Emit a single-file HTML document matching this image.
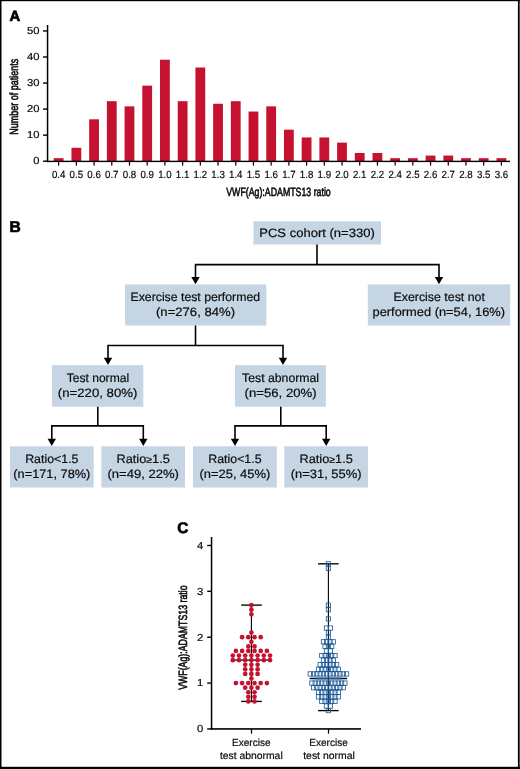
<!DOCTYPE html>
<html><head><meta charset="utf-8"><title>Figure</title>
<style>html,body{margin:0;padding:0;background:#fff}svg{display:block;will-change:transform}text{white-space:pre;text-rendering:geometricPrecision;stroke:#0c0c0c;stroke-width:0.2px}</style></head>
<body>
<svg width="520" height="769" viewBox="0 0 520 769" font-family="'Liberation Sans', sans-serif" fill="#0c0c0c">
<rect x="0" y="0" width="520" height="769" fill="#fff"/>
<rect x="0" y="0" width="520" height="1.2" fill="#000"/>
<rect x="0" y="0" width="1.5" height="769" fill="#000"/>
<rect x="517.9" y="0" width="1.8" height="769" fill="#000"/>
<rect x="0" y="766.8" width="520" height="2.2" fill="#000"/>
<text x="9.6" y="20.6" font-size="14.8" text-anchor="start" font-weight="bold" fill="#000" style="stroke:#000;stroke-width:0.7px">A</text>
<rect x="53.75" y="158.16" width="9.8" height="2.99" fill="#c41230"/>
<rect x="71.46" y="147.80" width="9.8" height="13.35" fill="#c41230"/>
<rect x="89.17" y="119.31" width="9.8" height="41.84" fill="#c41230"/>
<rect x="106.88" y="101.18" width="9.8" height="59.97" fill="#c41230"/>
<rect x="124.59" y="106.36" width="9.8" height="54.79" fill="#c41230"/>
<rect x="142.30" y="85.64" width="9.8" height="75.51" fill="#c41230"/>
<rect x="160.01" y="59.74" width="9.8" height="101.41" fill="#c41230"/>
<rect x="177.72" y="101.18" width="9.8" height="59.97" fill="#c41230"/>
<rect x="195.43" y="67.51" width="9.8" height="93.64" fill="#c41230"/>
<rect x="213.14" y="103.77" width="9.8" height="57.38" fill="#c41230"/>
<rect x="230.85" y="101.18" width="9.8" height="59.97" fill="#c41230"/>
<rect x="248.56" y="111.54" width="9.8" height="49.61" fill="#c41230"/>
<rect x="266.27" y="106.36" width="9.8" height="54.79" fill="#c41230"/>
<rect x="283.98" y="129.67" width="9.8" height="31.48" fill="#c41230"/>
<rect x="301.69" y="137.44" width="9.8" height="23.71" fill="#c41230"/>
<rect x="319.40" y="137.44" width="9.8" height="23.71" fill="#c41230"/>
<rect x="337.11" y="142.62" width="9.8" height="18.53" fill="#c41230"/>
<rect x="354.82" y="152.98" width="9.8" height="8.17" fill="#c41230"/>
<rect x="372.53" y="152.98" width="9.8" height="8.17" fill="#c41230"/>
<rect x="390.24" y="158.16" width="9.8" height="2.99" fill="#c41230"/>
<rect x="407.95" y="158.16" width="9.8" height="2.99" fill="#c41230"/>
<rect x="425.66" y="155.57" width="9.8" height="5.58" fill="#c41230"/>
<rect x="443.37" y="155.57" width="9.8" height="5.58" fill="#c41230"/>
<rect x="461.08" y="158.16" width="9.8" height="2.99" fill="#c41230"/>
<rect x="478.79" y="158.16" width="9.8" height="2.99" fill="#c41230"/>
<rect x="496.50" y="158.16" width="9.8" height="2.99" fill="#c41230"/>
<rect x="46.8" y="25" width="1.5" height="137.10" fill="#000"/>
<rect x="46.8" y="160.7" width="463.20" height="1.4" fill="#000"/>
<rect x="43" y="160.50" width="4" height="1.4" fill="#000"/>
<text x="39.5" y="164.2" font-size="10.2" text-anchor="end" font-weight="normal" textLength="6.2" lengthAdjust="spacingAndGlyphs">0</text>
<rect x="43" y="134.45" width="4" height="1.4" fill="#000"/>
<text x="39.5" y="138.14999999999998" font-size="10.2" text-anchor="end" font-weight="normal" textLength="12.5" lengthAdjust="spacingAndGlyphs">10</text>
<rect x="43" y="108.40" width="4" height="1.4" fill="#000"/>
<text x="39.5" y="112.1" font-size="10.2" text-anchor="end" font-weight="normal" textLength="12.5" lengthAdjust="spacingAndGlyphs">20</text>
<rect x="43" y="82.35" width="4" height="1.4" fill="#000"/>
<text x="39.5" y="86.04999999999998" font-size="10.2" text-anchor="end" font-weight="normal" textLength="12.5" lengthAdjust="spacingAndGlyphs">30</text>
<rect x="43" y="56.30" width="4" height="1.4" fill="#000"/>
<text x="39.5" y="59.999999999999986" font-size="10.2" text-anchor="end" font-weight="normal" textLength="12.5" lengthAdjust="spacingAndGlyphs">40</text>
<rect x="43" y="30.25" width="4" height="1.4" fill="#000"/>
<text x="39.5" y="33.94999999999999" font-size="10.2" text-anchor="end" font-weight="normal" textLength="12.5" lengthAdjust="spacingAndGlyphs">50</text>
<rect x="58.05" y="161" width="1.2" height="4.6" fill="#000"/>
<text x="58.65" y="178.1" font-size="10.4" text-anchor="middle" font-weight="normal" textLength="13.5" lengthAdjust="spacingAndGlyphs">0.4</text>
<rect x="75.76" y="161" width="1.2" height="4.6" fill="#000"/>
<text x="76.36" y="178.1" font-size="10.4" text-anchor="middle" font-weight="normal" textLength="13.5" lengthAdjust="spacingAndGlyphs">0.5</text>
<rect x="93.47" y="161" width="1.2" height="4.6" fill="#000"/>
<text x="94.07" y="178.1" font-size="10.4" text-anchor="middle" font-weight="normal" textLength="13.5" lengthAdjust="spacingAndGlyphs">0.6</text>
<rect x="111.18" y="161" width="1.2" height="4.6" fill="#000"/>
<text x="111.78" y="178.1" font-size="10.4" text-anchor="middle" font-weight="normal" textLength="13.5" lengthAdjust="spacingAndGlyphs">0.7</text>
<rect x="128.89" y="161" width="1.2" height="4.6" fill="#000"/>
<text x="129.49" y="178.1" font-size="10.4" text-anchor="middle" font-weight="normal" textLength="13.5" lengthAdjust="spacingAndGlyphs">0.8</text>
<rect x="146.60" y="161" width="1.2" height="4.6" fill="#000"/>
<text x="147.20" y="178.1" font-size="10.4" text-anchor="middle" font-weight="normal" textLength="13.5" lengthAdjust="spacingAndGlyphs">0.9</text>
<rect x="164.31" y="161" width="1.2" height="4.6" fill="#000"/>
<text x="164.91" y="178.1" font-size="10.4" text-anchor="middle" font-weight="normal" textLength="13.5" lengthAdjust="spacingAndGlyphs">1.0</text>
<rect x="182.02" y="161" width="1.2" height="4.6" fill="#000"/>
<text x="182.62" y="178.1" font-size="10.4" text-anchor="middle" font-weight="normal" textLength="13.5" lengthAdjust="spacingAndGlyphs">1.1</text>
<rect x="199.73" y="161" width="1.2" height="4.6" fill="#000"/>
<text x="200.33" y="178.1" font-size="10.4" text-anchor="middle" font-weight="normal" textLength="13.5" lengthAdjust="spacingAndGlyphs">1.2</text>
<rect x="217.44" y="161" width="1.2" height="4.6" fill="#000"/>
<text x="218.04" y="178.1" font-size="10.4" text-anchor="middle" font-weight="normal" textLength="13.5" lengthAdjust="spacingAndGlyphs">1.3</text>
<rect x="235.15" y="161" width="1.2" height="4.6" fill="#000"/>
<text x="235.75" y="178.1" font-size="10.4" text-anchor="middle" font-weight="normal" textLength="13.5" lengthAdjust="spacingAndGlyphs">1.4</text>
<rect x="252.86" y="161" width="1.2" height="4.6" fill="#000"/>
<text x="253.46" y="178.1" font-size="10.4" text-anchor="middle" font-weight="normal" textLength="13.5" lengthAdjust="spacingAndGlyphs">1.5</text>
<rect x="270.57" y="161" width="1.2" height="4.6" fill="#000"/>
<text x="271.17" y="178.1" font-size="10.4" text-anchor="middle" font-weight="normal" textLength="13.5" lengthAdjust="spacingAndGlyphs">1.6</text>
<rect x="288.28" y="161" width="1.2" height="4.6" fill="#000"/>
<text x="288.88" y="178.1" font-size="10.4" text-anchor="middle" font-weight="normal" textLength="13.5" lengthAdjust="spacingAndGlyphs">1.7</text>
<rect x="305.99" y="161" width="1.2" height="4.6" fill="#000"/>
<text x="306.59" y="178.1" font-size="10.4" text-anchor="middle" font-weight="normal" textLength="13.5" lengthAdjust="spacingAndGlyphs">1.8</text>
<rect x="323.70" y="161" width="1.2" height="4.6" fill="#000"/>
<text x="324.30" y="178.1" font-size="10.4" text-anchor="middle" font-weight="normal" textLength="13.5" lengthAdjust="spacingAndGlyphs">1.9</text>
<rect x="341.41" y="161" width="1.2" height="4.6" fill="#000"/>
<text x="342.01" y="178.1" font-size="10.4" text-anchor="middle" font-weight="normal" textLength="13.5" lengthAdjust="spacingAndGlyphs">2.0</text>
<rect x="359.12" y="161" width="1.2" height="4.6" fill="#000"/>
<text x="359.72" y="178.1" font-size="10.4" text-anchor="middle" font-weight="normal" textLength="13.5" lengthAdjust="spacingAndGlyphs">2.1</text>
<rect x="376.83" y="161" width="1.2" height="4.6" fill="#000"/>
<text x="377.43" y="178.1" font-size="10.4" text-anchor="middle" font-weight="normal" textLength="13.5" lengthAdjust="spacingAndGlyphs">2.2</text>
<rect x="394.54" y="161" width="1.2" height="4.6" fill="#000"/>
<text x="395.14" y="178.1" font-size="10.4" text-anchor="middle" font-weight="normal" textLength="13.5" lengthAdjust="spacingAndGlyphs">2.4</text>
<rect x="412.25" y="161" width="1.2" height="4.6" fill="#000"/>
<text x="412.85" y="178.1" font-size="10.4" text-anchor="middle" font-weight="normal" textLength="13.5" lengthAdjust="spacingAndGlyphs">2.5</text>
<rect x="429.96" y="161" width="1.2" height="4.6" fill="#000"/>
<text x="430.56" y="178.1" font-size="10.4" text-anchor="middle" font-weight="normal" textLength="13.5" lengthAdjust="spacingAndGlyphs">2.6</text>
<rect x="447.67" y="161" width="1.2" height="4.6" fill="#000"/>
<text x="448.27" y="178.1" font-size="10.4" text-anchor="middle" font-weight="normal" textLength="13.5" lengthAdjust="spacingAndGlyphs">2.7</text>
<rect x="465.38" y="161" width="1.2" height="4.6" fill="#000"/>
<text x="465.98" y="178.1" font-size="10.4" text-anchor="middle" font-weight="normal" textLength="13.5" lengthAdjust="spacingAndGlyphs">2.8</text>
<rect x="483.09" y="161" width="1.2" height="4.6" fill="#000"/>
<text x="483.69" y="178.1" font-size="10.4" text-anchor="middle" font-weight="normal" textLength="13.5" lengthAdjust="spacingAndGlyphs">3.5</text>
<rect x="500.80" y="161" width="1.2" height="4.6" fill="#000"/>
<text x="501.40" y="178.1" font-size="10.4" text-anchor="middle" font-weight="normal" textLength="13.5" lengthAdjust="spacingAndGlyphs">3.6</text>
<text x="278.5" y="195.6" font-size="12" text-anchor="middle" font-weight="normal" textLength="104.5" lengthAdjust="spacingAndGlyphs" style="stroke-width:0.6px">VWF(Ag):ADAMTS13 ratio</text>
<g transform="translate(18.3,96.7) rotate(-90)">
<text x="0" y="0" font-size="12" text-anchor="middle" font-weight="normal" textLength="76" lengthAdjust="spacingAndGlyphs" style="stroke-width:0.6px">Number of patients</text>
</g>
<text x="9.5" y="231.6" font-size="15.6" text-anchor="start" font-weight="bold" fill="#000" style="stroke:#000;stroke-width:0.7px">B</text>
<rect x="253.5" y="221.3" width="127.50" height="23.20" fill="#c5d5e4"/>
<text x="317" y="237" font-size="12.2" text-anchor="middle" font-weight="normal" textLength="115.5" lengthAdjust="spacingAndGlyphs">PCS cohort (n=330)</text>
<polyline points="317,244.5 317,264.6" fill="none" stroke="#000" stroke-width="1.6"/>
<polyline points="195.5,278 195.5,264.6 439,264.6 439,278" fill="none" stroke="#000" stroke-width="1.6"/>
<polygon points="191.3,277.0 199.7,277.0 195.5,284.3" fill="#000"/>
<polygon points="434.8,277.0 443.2,277.0 439,284.3" fill="#000"/>
<rect x="125" y="284.4" width="141.30" height="41.10" fill="#c5d5e4"/>
<text x="195.3" y="300.8" font-size="12.2" text-anchor="middle" font-weight="normal" textLength="129.5" lengthAdjust="spacingAndGlyphs">Exercise test performed</text>
<text x="195.5" y="316.3" font-size="12.2" text-anchor="middle" font-weight="normal" textLength="79" lengthAdjust="spacingAndGlyphs">(n=276, 84%)</text>
<rect x="367.8" y="284.4" width="142.40" height="41.10" fill="#c5d5e4"/>
<text x="439.2" y="300.8" font-size="12.2" text-anchor="middle" font-weight="normal" textLength="91.5" lengthAdjust="spacingAndGlyphs">Exercise test not</text>
<text x="438.8" y="316.3" font-size="12.2" text-anchor="middle" font-weight="normal" textLength="132.5" lengthAdjust="spacingAndGlyphs">performed (n=54, 16%)</text>
<polyline points="195.5,325.5 195.5,345.45" fill="none" stroke="#000" stroke-width="1.6"/>
<polyline points="108,358 108,345.45 283,345.45 283,358" fill="none" stroke="#000" stroke-width="1.6"/>
<polygon points="103.8,357.7 112.2,357.7 108,365" fill="#000"/>
<polygon points="278.8,357.7 287.2,357.7 283,365" fill="#000"/>
<rect x="52" y="365.2" width="91.30" height="41.50" fill="#c5d5e4"/>
<text x="97.9" y="381.8" font-size="12.2" text-anchor="middle" font-weight="normal" textLength="62.5" lengthAdjust="spacingAndGlyphs">Test normal</text>
<text x="97.6" y="397.4" font-size="12.2" text-anchor="middle" font-weight="normal" textLength="79.5" lengthAdjust="spacingAndGlyphs">(n=220, 80%)</text>
<rect x="235" y="365.2" width="90.80" height="41.50" fill="#c5d5e4"/>
<text x="280.6" y="381.8" font-size="12.2" text-anchor="middle" font-weight="normal" textLength="77" lengthAdjust="spacingAndGlyphs">Test abnormal</text>
<text x="280.6" y="397.4" font-size="12.2" text-anchor="middle" font-weight="normal" textLength="72" lengthAdjust="spacingAndGlyphs">(n=56, 20%)</text>
<polyline points="97.8,406.7 97.8,425.9" fill="none" stroke="#000" stroke-width="1.6"/>
<polyline points="51.8,439 51.8,425.9 143.3,425.9 143.3,439" fill="none" stroke="#000" stroke-width="1.6"/>
<polygon points="47.599999999999994,438.7 56.0,438.7 51.8,446" fill="#000"/>
<polygon points="139.10000000000002,438.7 147.5,438.7 143.3,446" fill="#000"/>
<polyline points="280.8,406.7 280.8,425.9" fill="none" stroke="#000" stroke-width="1.6"/>
<polyline points="235,439 235,425.9 326.2,425.9 326.2,439" fill="none" stroke="#000" stroke-width="1.6"/>
<polygon points="230.8,438.7 239.2,438.7 235,446" fill="#000"/>
<polygon points="322.0,438.7 330.4,438.7 326.2,446" fill="#000"/>
<rect x="10" y="446.3" width="83.70" height="41.20" fill="#c5d5e4"/>
<text x="51.85" y="462.8" font-size="12.2" text-anchor="middle" font-weight="normal" textLength="53.3" lengthAdjust="spacingAndGlyphs">Ratio&lt;1.5</text>
<text x="51.85" y="478.3" font-size="12.2" text-anchor="middle" font-weight="normal" textLength="77" lengthAdjust="spacingAndGlyphs">(n=171, 78%)</text>
<rect x="101.3" y="446.3" width="83.70" height="41.20" fill="#c5d5e4"/>
<text x="143.15" y="462.8" font-size="12.2" text-anchor="middle" font-weight="normal" textLength="53.3" lengthAdjust="spacingAndGlyphs">Ratio<tspan font-size="10" dy="-0.3">≥</tspan><tspan dy="0.3">1.5</tspan></text>
<text x="143.15" y="478.3" font-size="12.2" text-anchor="middle" font-weight="normal" textLength="71.5" lengthAdjust="spacingAndGlyphs">(n=49, 22%)</text>
<rect x="193" y="446.3" width="83.80" height="41.20" fill="#c5d5e4"/>
<text x="234.90" y="462.8" font-size="12.2" text-anchor="middle" font-weight="normal" textLength="53.3" lengthAdjust="spacingAndGlyphs">Ratio&lt;1.5</text>
<text x="234.90" y="478.3" font-size="12.2" text-anchor="middle" font-weight="normal" textLength="70.8" lengthAdjust="spacingAndGlyphs">(n=25, 45%)</text>
<rect x="284.3" y="446.3" width="83.70" height="41.20" fill="#c5d5e4"/>
<text x="326.15" y="462.8" font-size="12.2" text-anchor="middle" font-weight="normal" textLength="53.3" lengthAdjust="spacingAndGlyphs">Ratio<tspan font-size="10" dy="-0.3">≥</tspan><tspan dy="0.3">1.5</tspan></text>
<text x="326.15" y="478.3" font-size="12.2" text-anchor="middle" font-weight="normal" textLength="70.8" lengthAdjust="spacingAndGlyphs">(n=31, 55%)</text>
<text x="177.2" y="532.7" font-size="15.4" text-anchor="start" font-weight="bold" fill="#000" style="stroke:#000;stroke-width:0.7px">C</text>
<rect x="210.8" y="537" width="1.5" height="192.75" fill="#000"/>
<rect x="210.8" y="728.15" width="150.2" height="1.6" fill="#000"/>
<rect x="207.2" y="728.25" width="4" height="1.4" fill="#000"/>
<text x="203.3" y="732.25" font-size="10.2" text-anchor="end" font-weight="normal" textLength="6.3" lengthAdjust="spacingAndGlyphs">0</text>
<rect x="207.2" y="682.38" width="4" height="1.4" fill="#000"/>
<text x="203.3" y="686.38" font-size="10.2" text-anchor="end" font-weight="normal" textLength="6.3" lengthAdjust="spacingAndGlyphs">1</text>
<rect x="207.2" y="636.51" width="4" height="1.4" fill="#000"/>
<text x="203.3" y="640.51" font-size="10.2" text-anchor="end" font-weight="normal" textLength="6.3" lengthAdjust="spacingAndGlyphs">2</text>
<rect x="207.2" y="590.64" width="4" height="1.4" fill="#000"/>
<text x="203.3" y="594.64" font-size="10.2" text-anchor="end" font-weight="normal" textLength="6.3" lengthAdjust="spacingAndGlyphs">3</text>
<rect x="207.2" y="544.77" width="4" height="1.4" fill="#000"/>
<text x="203.3" y="548.77" font-size="10.2" text-anchor="end" font-weight="normal" textLength="6.3" lengthAdjust="spacingAndGlyphs">4</text>
<rect x="250.9" y="728.95" width="1.2" height="4.7" fill="#000"/>
<rect x="327.9" y="728.95" width="1.2" height="4.7" fill="#000"/>
<text x="251.3" y="745.5" font-size="10.3" text-anchor="middle" font-weight="normal" textLength="38.6" lengthAdjust="spacingAndGlyphs">Exercise</text>
<text x="251.3" y="758.6" font-size="10.3" text-anchor="middle" font-weight="normal" textLength="62.8" lengthAdjust="spacingAndGlyphs">test abnormal</text>
<text x="328.5" y="745.5" font-size="10.3" text-anchor="middle" font-weight="normal" textLength="38.6" lengthAdjust="spacingAndGlyphs">Exercise</text>
<text x="329" y="758.6" font-size="10.3" text-anchor="middle" font-weight="normal" textLength="51.6" lengthAdjust="spacingAndGlyphs">test normal</text>
<g transform="translate(187.3,637.6) rotate(-90)">
<text x="0" y="0" font-size="12" text-anchor="middle" font-weight="normal" textLength="104.5" lengthAdjust="spacingAndGlyphs" style="stroke-width:0.6px">VWF(Ag):ADAMTS13 ratio</text>
</g>
<g stroke="#000" stroke-width="1.1" fill="none">
<line x1="251.4" y1="605.10" x2="251.4" y2="701.43"/>
<line x1="241.2" y1="605.10" x2="261.8" y2="605.10" stroke-width="1.35"/>
<line x1="241.2" y1="701.43" x2="261.8" y2="701.43" stroke-width="1.35"/>
<line x1="231.4" y1="660.15" x2="271.8" y2="660.15" stroke-width="1.35"/>
</g>
<g fill="#c41230">
<circle cx="251.40" cy="605.10" r="2.35"/>
<circle cx="251.40" cy="609.69" r="2.35"/>
<circle cx="251.40" cy="614.28" r="2.35"/>
<circle cx="251.40" cy="632.62" r="2.35"/>
<circle cx="242.10" cy="637.21" r="2.35"/>
<circle cx="248.30" cy="637.21" r="2.35"/>
<circle cx="254.50" cy="637.21" r="2.35"/>
<circle cx="260.70" cy="637.21" r="2.35"/>
<circle cx="251.40" cy="641.80" r="2.35"/>
<circle cx="248.30" cy="646.38" r="2.35"/>
<circle cx="254.50" cy="646.38" r="2.35"/>
<circle cx="235.90" cy="650.97" r="2.35"/>
<circle cx="242.10" cy="650.97" r="2.35"/>
<circle cx="248.30" cy="650.97" r="2.35"/>
<circle cx="254.50" cy="650.97" r="2.35"/>
<circle cx="260.70" cy="650.97" r="2.35"/>
<circle cx="266.90" cy="650.97" r="2.35"/>
<circle cx="232.80" cy="655.56" r="2.35"/>
<circle cx="239.00" cy="655.56" r="2.35"/>
<circle cx="245.20" cy="655.56" r="2.35"/>
<circle cx="251.40" cy="655.56" r="2.35"/>
<circle cx="257.60" cy="655.56" r="2.35"/>
<circle cx="263.80" cy="655.56" r="2.35"/>
<circle cx="270.00" cy="655.56" r="2.35"/>
<circle cx="232.80" cy="660.15" r="2.35"/>
<circle cx="239.00" cy="660.15" r="2.35"/>
<circle cx="245.20" cy="660.15" r="2.35"/>
<circle cx="251.40" cy="660.15" r="2.35"/>
<circle cx="257.60" cy="660.15" r="2.35"/>
<circle cx="263.80" cy="660.15" r="2.35"/>
<circle cx="270.00" cy="660.15" r="2.35"/>
<circle cx="245.20" cy="664.73" r="2.35"/>
<circle cx="251.40" cy="664.73" r="2.35"/>
<circle cx="257.60" cy="664.73" r="2.35"/>
<circle cx="245.20" cy="669.32" r="2.35"/>
<circle cx="251.40" cy="669.32" r="2.35"/>
<circle cx="257.60" cy="669.32" r="2.35"/>
<circle cx="245.20" cy="673.91" r="2.35"/>
<circle cx="251.40" cy="673.91" r="2.35"/>
<circle cx="257.60" cy="673.91" r="2.35"/>
<circle cx="251.40" cy="678.49" r="2.35"/>
<circle cx="235.90" cy="683.08" r="2.35"/>
<circle cx="242.10" cy="683.08" r="2.35"/>
<circle cx="248.30" cy="683.08" r="2.35"/>
<circle cx="254.50" cy="683.08" r="2.35"/>
<circle cx="260.70" cy="683.08" r="2.35"/>
<circle cx="266.90" cy="683.08" r="2.35"/>
<circle cx="245.20" cy="687.67" r="2.35"/>
<circle cx="251.40" cy="687.67" r="2.35"/>
<circle cx="257.60" cy="687.67" r="2.35"/>
<circle cx="248.30" cy="692.25" r="2.35"/>
<circle cx="254.50" cy="692.25" r="2.35"/>
<circle cx="248.30" cy="696.84" r="2.35"/>
<circle cx="254.50" cy="696.84" r="2.35"/>
<circle cx="248.30" cy="701.43" r="2.35"/>
<circle cx="254.50" cy="701.43" r="2.35"/>
</g>
<g stroke="#000" stroke-width="1.1" fill="none">
<line x1="328.4" y1="563.82" x2="328.4" y2="639.50"/>
<line x1="328.4" y1="639.50" x2="328.4" y2="703.72" stroke="#0b1f4d" stroke-width="1"/>
<line x1="328.4" y1="703.72" x2="328.4" y2="710.60"/>
<line x1="318.1" y1="563.82" x2="338.6" y2="563.82" stroke-width="1.35"/>
<line x1="318.1" y1="710.60" x2="338.6" y2="710.60" stroke-width="1.35"/>
<line x1="309.7" y1="678.49" x2="347" y2="678.49" stroke-width="1.4"/>
<line x1="315.2" y1="678.49" x2="341.6" y2="678.49" stroke="#1c4f88" stroke-width="1.8"/>
</g>
<g stroke="#1a5896" stroke-width="0.8" fill="none">
<rect x="326.25" y="561.67" width="4.3" height="4.3"/>
<rect x="326.25" y="566.26" width="4.3" height="4.3"/>
<rect x="326.25" y="602.95" width="4.3" height="4.3"/>
<rect x="326.25" y="607.54" width="4.3" height="4.3"/>
<rect x="326.25" y="616.71" width="4.3" height="4.3"/>
<rect x="324.30" y="625.89" width="4.3" height="4.3"/>
<rect x="328.20" y="625.89" width="4.3" height="4.3"/>
<rect x="326.25" y="630.47" width="4.3" height="4.3"/>
<rect x="326.25" y="635.06" width="4.3" height="4.3"/>
<rect x="321.30" y="639.65" width="4.3" height="4.3"/>
<rect x="324.60" y="639.65" width="4.3" height="4.3"/>
<rect x="327.90" y="639.65" width="4.3" height="4.3"/>
<rect x="331.20" y="639.65" width="4.3" height="4.3"/>
<rect x="322.95" y="644.23" width="4.3" height="4.3"/>
<rect x="326.25" y="644.23" width="4.3" height="4.3"/>
<rect x="329.55" y="644.23" width="4.3" height="4.3"/>
<rect x="324.30" y="648.82" width="4.3" height="4.3"/>
<rect x="328.20" y="648.82" width="4.3" height="4.3"/>
<rect x="319.65" y="653.41" width="4.3" height="4.3"/>
<rect x="322.95" y="653.41" width="4.3" height="4.3"/>
<rect x="326.25" y="653.41" width="4.3" height="4.3"/>
<rect x="329.55" y="653.41" width="4.3" height="4.3"/>
<rect x="332.85" y="653.41" width="4.3" height="4.3"/>
<rect x="321.30" y="658.00" width="4.3" height="4.3"/>
<rect x="324.60" y="658.00" width="4.3" height="4.3"/>
<rect x="327.90" y="658.00" width="4.3" height="4.3"/>
<rect x="331.20" y="658.00" width="4.3" height="4.3"/>
<rect x="318.00" y="662.58" width="4.3" height="4.3"/>
<rect x="321.30" y="662.58" width="4.3" height="4.3"/>
<rect x="324.60" y="662.58" width="4.3" height="4.3"/>
<rect x="327.90" y="662.58" width="4.3" height="4.3"/>
<rect x="331.20" y="662.58" width="4.3" height="4.3"/>
<rect x="334.50" y="662.58" width="4.3" height="4.3"/>
<rect x="316.35" y="667.17" width="4.3" height="4.3"/>
<rect x="319.65" y="667.17" width="4.3" height="4.3"/>
<rect x="322.95" y="667.17" width="4.3" height="4.3"/>
<rect x="326.25" y="667.17" width="4.3" height="4.3"/>
<rect x="329.55" y="667.17" width="4.3" height="4.3"/>
<rect x="332.85" y="667.17" width="4.3" height="4.3"/>
<rect x="336.15" y="667.17" width="4.3" height="4.3"/>
<rect x="308.10" y="671.76" width="4.3" height="4.3"/>
<rect x="311.40" y="671.76" width="4.3" height="4.3"/>
<rect x="314.70" y="671.76" width="4.3" height="4.3"/>
<rect x="318.00" y="671.76" width="4.3" height="4.3"/>
<rect x="321.30" y="671.76" width="4.3" height="4.3"/>
<rect x="324.60" y="671.76" width="4.3" height="4.3"/>
<rect x="327.90" y="671.76" width="4.3" height="4.3"/>
<rect x="331.20" y="671.76" width="4.3" height="4.3"/>
<rect x="334.50" y="671.76" width="4.3" height="4.3"/>
<rect x="337.80" y="671.76" width="4.3" height="4.3"/>
<rect x="341.10" y="671.76" width="4.3" height="4.3"/>
<rect x="344.40" y="671.76" width="4.3" height="4.3"/>
<rect x="309.75" y="680.93" width="4.3" height="4.3"/>
<rect x="313.05" y="680.93" width="4.3" height="4.3"/>
<rect x="316.35" y="680.93" width="4.3" height="4.3"/>
<rect x="319.65" y="680.93" width="4.3" height="4.3"/>
<rect x="322.95" y="680.93" width="4.3" height="4.3"/>
<rect x="326.25" y="680.93" width="4.3" height="4.3"/>
<rect x="329.55" y="680.93" width="4.3" height="4.3"/>
<rect x="332.85" y="680.93" width="4.3" height="4.3"/>
<rect x="336.15" y="680.93" width="4.3" height="4.3"/>
<rect x="339.45" y="680.93" width="4.3" height="4.3"/>
<rect x="342.75" y="680.93" width="4.3" height="4.3"/>
<rect x="311.40" y="685.52" width="4.3" height="4.3"/>
<rect x="314.70" y="685.52" width="4.3" height="4.3"/>
<rect x="318.00" y="685.52" width="4.3" height="4.3"/>
<rect x="321.30" y="685.52" width="4.3" height="4.3"/>
<rect x="324.60" y="685.52" width="4.3" height="4.3"/>
<rect x="327.90" y="685.52" width="4.3" height="4.3"/>
<rect x="331.20" y="685.52" width="4.3" height="4.3"/>
<rect x="334.50" y="685.52" width="4.3" height="4.3"/>
<rect x="337.80" y="685.52" width="4.3" height="4.3"/>
<rect x="341.10" y="685.52" width="4.3" height="4.3"/>
<rect x="316.35" y="690.10" width="4.3" height="4.3"/>
<rect x="319.65" y="690.10" width="4.3" height="4.3"/>
<rect x="322.95" y="690.10" width="4.3" height="4.3"/>
<rect x="326.25" y="690.10" width="4.3" height="4.3"/>
<rect x="329.55" y="690.10" width="4.3" height="4.3"/>
<rect x="332.85" y="690.10" width="4.3" height="4.3"/>
<rect x="336.15" y="690.10" width="4.3" height="4.3"/>
<rect x="316.35" y="694.69" width="4.3" height="4.3"/>
<rect x="319.65" y="694.69" width="4.3" height="4.3"/>
<rect x="322.95" y="694.69" width="4.3" height="4.3"/>
<rect x="326.25" y="694.69" width="4.3" height="4.3"/>
<rect x="329.55" y="694.69" width="4.3" height="4.3"/>
<rect x="332.85" y="694.69" width="4.3" height="4.3"/>
<rect x="336.15" y="694.69" width="4.3" height="4.3"/>
<rect x="319.65" y="699.28" width="4.3" height="4.3"/>
<rect x="322.95" y="699.28" width="4.3" height="4.3"/>
<rect x="326.25" y="699.28" width="4.3" height="4.3"/>
<rect x="329.55" y="699.28" width="4.3" height="4.3"/>
<rect x="332.85" y="699.28" width="4.3" height="4.3"/>
<rect x="324.30" y="703.87" width="4.3" height="4.3"/>
<rect x="328.20" y="703.87" width="4.3" height="4.3"/>
<rect x="326.25" y="708.45" width="4.3" height="4.3"/>
</g>
</svg>
</body></html>
